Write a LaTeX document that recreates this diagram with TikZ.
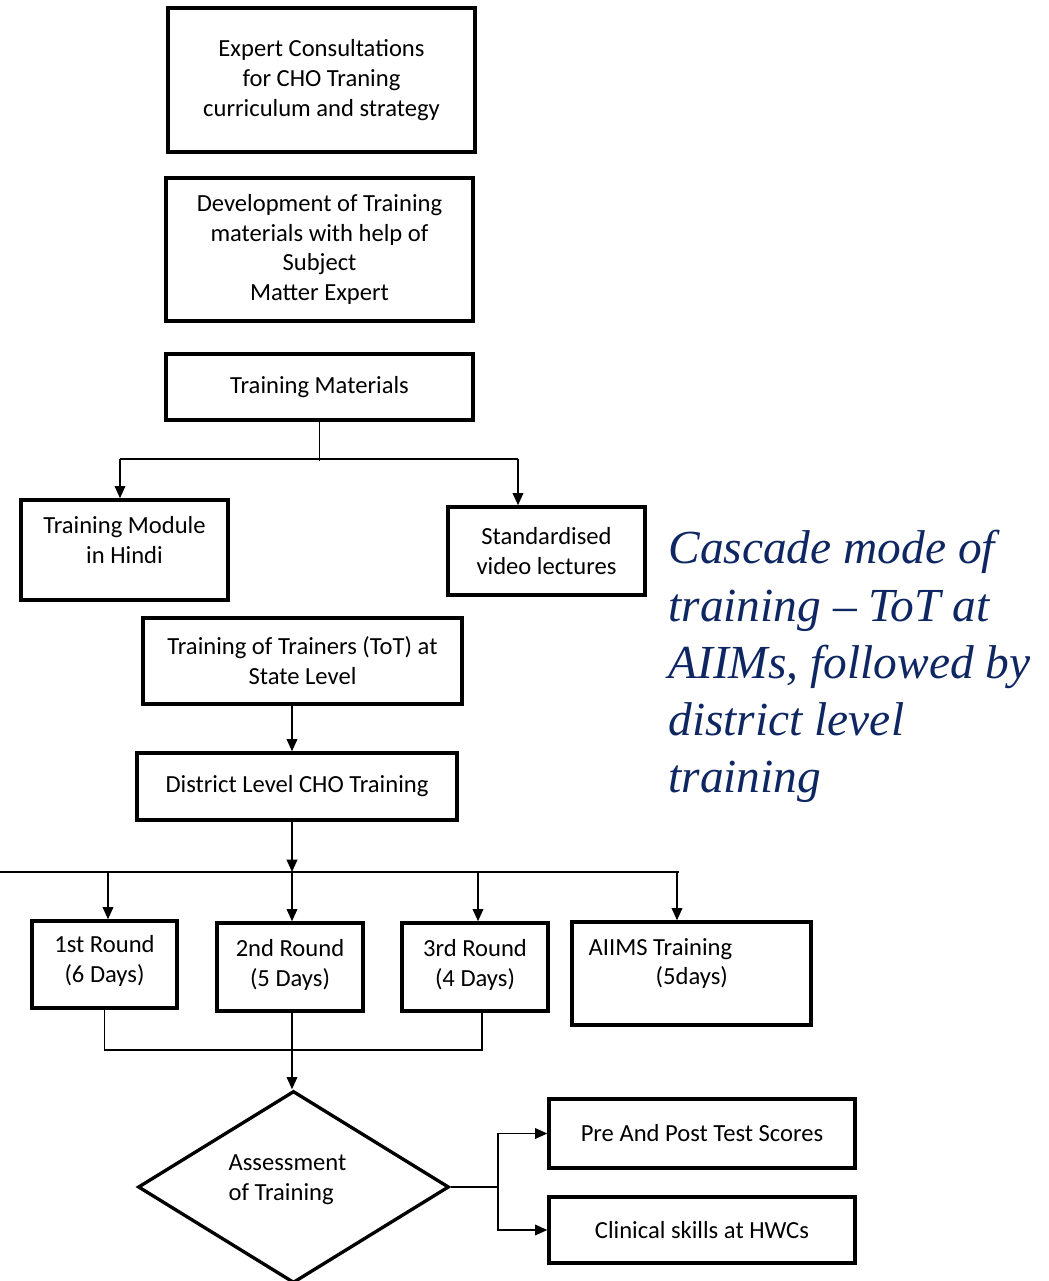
\documentclass[tikz,border=0pt]{standalone}
\usepackage{fontspec}
\setmainfont{Carlito}
\newfontfamily\notefont{Liberation Serif}
\usetikzlibrary{shapes.geometric,arrows.meta}   %diamond and filled arrow tips
\definecolor{navy}{RGB}{14,38,98}
\newlength\unitpx
\setlength\unitpx{0.02cm}

\begin{document}
\begin{tikzpicture}[x=0.02cm,y=-0.02cm,
  box/.style={draw,line width=1.9pt,align=center,inner sep=0pt,font=\fontsize{14}{17}\selectfont},
  boxtext/.style={align=left,inner sep=0pt,font=\fontsize{14}{17}\selectfont},
  link/.style={line width=1.1pt},
  arr/.style={link,-{Triangle[length=7pt,width=6pt]}}]
\useasboundingbox (0,0) rectangle (1048,1281);

% Planning boxes
\node[box,minimum width=307\unitpx,minimum height=144\unitpx] (expert) at (321.5,80) {Expert Consultations\\for CHO Traning\\curriculum and strategy};
\node[box,minimum width=307\unitpx,minimum height=143\unitpx] (devel) at (319.5,249.5) {Development of Training\\materials with help of\\Subject\\Matter Expert};
\node[box,minimum width=307\unitpx,minimum height=66\unitpx] (material) at (319.5,387) {Training Materials};
\node[box,minimum width=207\unitpx,minimum height=100\unitpx,
  label={[boxtext,align=center,yshift=10\unitpx]center:{Training Module\\in Hindi}}] (module) at (124.5,550) {};
\node[box,minimum width=197\unitpx,minimum height=88\unitpx] (video) at (546.5,551) {Standardised\\video lectures};

% Cascade of training
\node[box,minimum width=319\unitpx,minimum height=86\unitpx] (tot) at (302.5,661) {Training of Trainers (ToT) at\\State Level};
\node[box,minimum width=320\unitpx,minimum height=67\unitpx] (district) at (297,786.5) {District Level CHO Training};
\node[box,minimum width=145\unitpx,minimum height=87\unitpx,
  label={[boxtext,align=center,yshift=4\unitpx]center:{1st Round\\(6 Days)}}] (round1) at (104.5,964.5) {};
\node[box,minimum width=146\unitpx,minimum height=88\unitpx,
  label={[boxtext,align=center,yshift=2\unitpx]center:{2nd Round\\(5 Days)}}] (round2) at (290,967) {};
\node[box,minimum width=146\unitpx,minimum height=88\unitpx,
  label={[boxtext,align=center,yshift=2\unitpx]center:{3rd Round\\(4 Days)}}] (round3) at (475,967) {};
\node[box,minimum width=239\unitpx,minimum height=103\unitpx,
  label={[boxtext,anchor=west,xshift=18\unitpx,yshift=10\unitpx]west:{AIIMS Training\\\hspace*{67\unitpx}(5days)}}] (aiims) at (691.5,973.5) {};

% Assessment
\node[box,diamond,minimum width=311\unitpx,minimum height=192\unitpx,
  label={[boxtext,xshift=-6\unitpx,yshift=7\unitpx]center:{Assessment\\of Training}}] (assess) at (293.5,1187) {};
\node[box,minimum width=306\unitpx,minimum height=69\unitpx] (prepost) at (702,1133.5) {Pre And Post Test Scores};
\node[box,minimum width=306\unitpx,minimum height=66\unitpx] (clinical) at (702,1230) {Clinical skills at HWCs};

\node[anchor=north west,align=left,inner sep=0pt,text=navy,font=\notefont\itshape\fontsize{27}{32.6}\selectfont] (note) at (668,530) {Cascade mode of\\training – ToT at\\AIIMs, followed by\\district level\\training};

% Connectors
\coordinate (spine) at (292,0);
\draw[link] (material.south) -- ++(0,39) coordinate (bus1);
\coordinate (bus1l) at (120,459);
\coordinate (bus1r) at (518,459);
\draw[link] (bus1l) -- (bus1r);
\draw[arr] (bus1l) -- (bus1l |- module.north);
\draw[arr] (bus1r) -- (bus1r |- video.north);

\draw[arr] (spine |- tot.south) -- (spine |- district.north);
\coordinate (bus2l) at (0,872);
\coordinate (bus2r) at (679,872);
\draw[arr] (spine |- district.south) -- (spine |- bus2l);
\draw[link] (bus2l) -- (bus2r);
\foreach \xpos/\target in {108/round1,292/round2,478/round3,677/aiims}
  \draw[arr] (\xpos,872) -- (\xpos,872 |- \target.north);

\draw[link] (round1.south) -- ++(0,40) -| ([xshift=7\unitpx]round3.south);
\draw[arr] (spine |- round2.south) -- (spine |- assess.north);

\draw[link] (assess.east) -- ++(47,0) coordinate (bus3);
\draw[arr] (bus3) |- (prepost.west);
\draw[arr] (bus3) |- (clinical.west);

\end{tikzpicture}
\end{document}
